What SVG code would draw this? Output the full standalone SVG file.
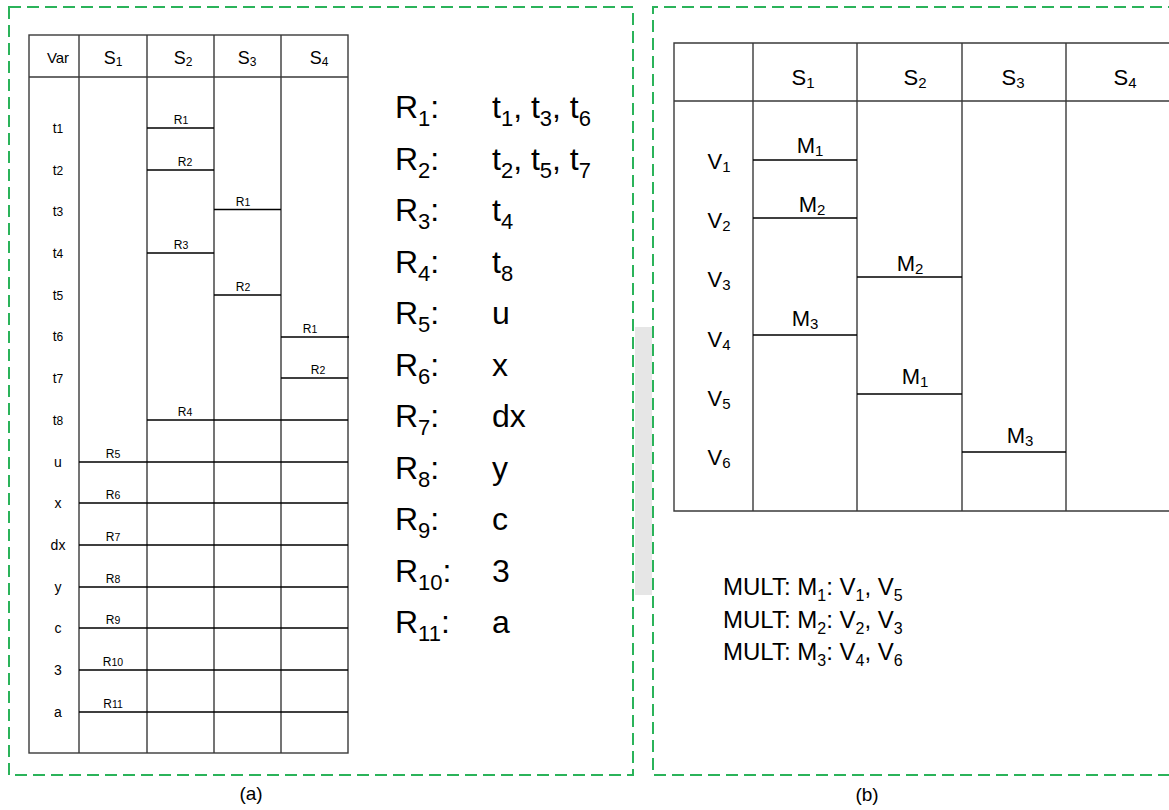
<svg xmlns="http://www.w3.org/2000/svg" width="1169" height="810" viewBox="0 0 1169 810">
<style>
text{font-family:"Liberation Sans",Arial,sans-serif;fill:#000}
.frame{fill:none;stroke:#2bb35a;stroke-width:2;stroke-dasharray:12 6}
.grid{fill:none;stroke:#3a3a3a;stroke-width:1.4}
.cut{stroke:#000;stroke-width:1.3}
.hd{font-size:18px;text-anchor:middle}
.hd .s{font-size:12px}
.var{font-size:15px;text-anchor:middle}
.row{font-size:14px;text-anchor:middle}
.row .s{font-size:12px}
.cell{font-size:12px;text-anchor:middle}
.cell .s{font-size:10.5px}
.lst{font-size:32px}
.lst .s{font-size:22px}
.rt{font-size:22px;text-anchor:middle}
.rt .s{font-size:15px}
.mult{font-size:24px}
.mult .s{font-size:16px}
.cap{font-size:19px;text-anchor:middle}
</style>
<rect width="1169" height="810" fill="#fff"/>
<rect x="635" y="327" width="17" height="268" fill="#e6e6e6"/>

<g id="frame-a"><rect class="frame" x="9" y="7" width="624" height="768"/></g>
<g id="frame-b"><path class="frame" d="M1180,7 H653 V775 H1180"/></g>

<g id="table-a">
<rect class="grid" x="29" y="35" width="319" height="718"/>
<path class="grid" d="M29,77 H348 M79,35 V753 M147,35 V753 M214,35 V753 M281,35 V753"/>
<path class="cut" d="M147,128 H214 M147,170 H214 M147,253 H214 M214,209.5 H281 M214,295 H281 M281,337 H349 M281,378 H348 M147,420 H348 M79,462 H348 M79,503 H348 M79,545 H348 M79,587 H348 M79,628 H348 M79,670 H348 M79,712 H348"/>
<text class="var" x="58" y="63">Var</text>
<text class="hd" x="113" y="64">S<tspan class="s" dy="2">1</tspan></text>
<text class="hd" x="183" y="64">S<tspan class="s" dy="2">2</tspan></text>
<text class="hd" x="247" y="64">S<tspan class="s" dy="2">3</tspan></text>
<text class="hd" x="319" y="64">S<tspan class="s" dy="2">4</tspan></text>
<text class="row" x="58" y="133">t<tspan class="s">1</tspan></text>
<text class="row" x="58" y="175">t<tspan class="s">2</tspan></text>
<text class="row" x="58" y="216">t<tspan class="s">3</tspan></text>
<text class="row" x="58" y="258">t<tspan class="s">4</tspan></text>
<text class="row" x="58" y="300">t<tspan class="s">5</tspan></text>
<text class="row" x="58" y="341">t<tspan class="s">6</tspan></text>
<text class="row" x="58" y="383">t<tspan class="s">7</tspan></text>
<text class="row" x="58" y="425">t<tspan class="s">8</tspan></text>
<text class="row" x="58" y="467">u</text>
<text class="row" x="58" y="508">x</text>
<text class="row" x="58" y="550">dx</text>
<text class="row" x="58" y="592">y</text>
<text class="row" x="58" y="633">c</text>
<text class="row" x="58" y="675">3</text>
<text class="row" x="58" y="717">a</text>
<text class="cell" x="181" y="124">R<tspan class="s">1</tspan></text>
<text class="cell" x="185" y="166">R<tspan class="s">2</tspan></text>
<text class="cell" x="181" y="249">R<tspan class="s">3</tspan></text>
<text class="cell" x="185" y="416">R<tspan class="s">4</tspan></text>
<text class="cell" x="243" y="205.5">R<tspan class="s">1</tspan></text>
<text class="cell" x="243" y="291">R<tspan class="s">2</tspan></text>
<text class="cell" x="310" y="333">R<tspan class="s">1</tspan></text>
<text class="cell" x="318" y="374">R<tspan class="s">2</tspan></text>
<text class="cell" x="113" y="458">R<tspan class="s">5</tspan></text>
<text class="cell" x="113" y="499">R<tspan class="s">6</tspan></text>
<text class="cell" x="113" y="541">R<tspan class="s">7</tspan></text>
<text class="cell" x="113" y="583">R<tspan class="s">8</tspan></text>
<text class="cell" x="113" y="624">R<tspan class="s">9</tspan></text>
<text class="cell" x="113" y="666">R<tspan class="s">10</tspan></text>
<text class="cell" x="113" y="708">R<tspan class="s">11</tspan></text>
</g>

<g id="list-a" class="lst">
<text x="395" y="118">R<tspan class="s" dy="8">1</tspan><tspan dy="-8">:</tspan></text>
<text x="492" y="118">t<tspan class="s" dy="8">1</tspan><tspan dy="-8">, t</tspan><tspan class="s" dy="8">3</tspan><tspan dy="-8">, t</tspan><tspan class="s" dy="8">6</tspan></text>
<text x="395" y="169.5">R<tspan class="s" dy="8">2</tspan><tspan dy="-8">:</tspan></text>
<text x="492" y="169.5">t<tspan class="s" dy="8">2</tspan><tspan dy="-8">, t</tspan><tspan class="s" dy="8">5</tspan><tspan dy="-8">, t</tspan><tspan class="s" dy="8">7</tspan></text>
<text x="395" y="221">R<tspan class="s" dy="8">3</tspan><tspan dy="-8">:</tspan></text>
<text x="492" y="221">t<tspan class="s" dy="8">4</tspan></text>
<text x="395" y="272.5">R<tspan class="s" dy="8">4</tspan><tspan dy="-8">:</tspan></text>
<text x="492" y="272.5">t<tspan class="s" dy="8">8</tspan></text>
<text x="395" y="324">R<tspan class="s" dy="8">5</tspan><tspan dy="-8">:</tspan></text>
<text x="492" y="324">u</text>
<text x="395" y="375.5">R<tspan class="s" dy="8">6</tspan><tspan dy="-8">:</tspan></text>
<text x="492" y="375.5">x</text>
<text x="395" y="427">R<tspan class="s" dy="8">7</tspan><tspan dy="-8">:</tspan></text>
<text x="492" y="427">dx</text>
<text x="395" y="478.5">R<tspan class="s" dy="8">8</tspan><tspan dy="-8">:</tspan></text>
<text x="492" y="478.5">y</text>
<text x="395" y="530">R<tspan class="s" dy="8">9</tspan><tspan dy="-8">:</tspan></text>
<text x="492" y="530">c</text>
<text x="395" y="581.5">R<tspan class="s" dy="8">10</tspan><tspan dy="-8">:</tspan></text>
<text x="492" y="581.5">3</text>
<text x="395" y="633">R<tspan class="s" dy="8">11</tspan><tspan dy="-8">:</tspan></text>
<text x="492" y="633">a</text>
</g>

<g id="table-b">
<path class="grid" d="M1175,43 H674 V511 H1175 M674,101 H1175 M753,43 V511 M857,43 V511 M962,43 V511 M1066,43 V511"/>
<path class="cut" d="M753,160 H857 M753,218 H857 M753,335 H857 M857,277 H962 M857,394 H962 M962,452 H1066"/>
<text class="rt" x="803" y="85">S<tspan class="s" dy="3">1</tspan></text>
<text class="rt" x="915" y="85">S<tspan class="s" dy="3">2</tspan></text>
<text class="rt" x="1013" y="85">S<tspan class="s" dy="3">3</tspan></text>
<text class="rt" x="1125" y="85">S<tspan class="s" dy="3">4</tspan></text>
<text class="rt" x="719" y="169">V<tspan class="s" dy="3">1</tspan></text>
<text class="rt" x="719" y="228">V<tspan class="s" dy="3">2</tspan></text>
<text class="rt" x="719" y="287">V<tspan class="s" dy="3">3</tspan></text>
<text class="rt" x="719" y="347">V<tspan class="s" dy="3">4</tspan></text>
<text class="rt" x="719" y="406">V<tspan class="s" dy="3">5</tspan></text>
<text class="rt" x="719" y="465">V<tspan class="s" dy="3">6</tspan></text>
<text class="rt" x="810" y="153">M<tspan class="s" dy="3">1</tspan></text>
<text class="rt" x="812" y="212">M<tspan class="s" dy="3">2</tspan></text>
<text class="rt" x="910" y="271">M<tspan class="s" dy="3">2</tspan></text>
<text class="rt" x="805" y="326">M<tspan class="s" dy="3">3</tspan></text>
<text class="rt" x="915" y="384">M<tspan class="s" dy="3">1</tspan></text>
<text class="rt" x="1020" y="443">M<tspan class="s" dy="3">3</tspan></text>
</g>

<g id="mult-b" class="mult">
<text x="723" y="595">MULT: M<tspan class="s" dy="6">1</tspan><tspan dy="-6">: V</tspan><tspan class="s" dy="6">1</tspan><tspan dy="-6">, V</tspan><tspan class="s" dy="6">5</tspan></text>
<text x="723" y="628">MULT: M<tspan class="s" dy="6">2</tspan><tspan dy="-6">: V</tspan><tspan class="s" dy="6">2</tspan><tspan dy="-6">, V</tspan><tspan class="s" dy="6">3</tspan></text>
<text x="723" y="660">MULT: M<tspan class="s" dy="6">3</tspan><tspan dy="-6">: V</tspan><tspan class="s" dy="6">4</tspan><tspan dy="-6">, V</tspan><tspan class="s" dy="6">6</tspan></text>
</g>

<g id="captions">
<text class="cap" x="251" y="800">(a)</text>
<text class="cap" x="867" y="801">(b)</text>
</g>
</svg>
